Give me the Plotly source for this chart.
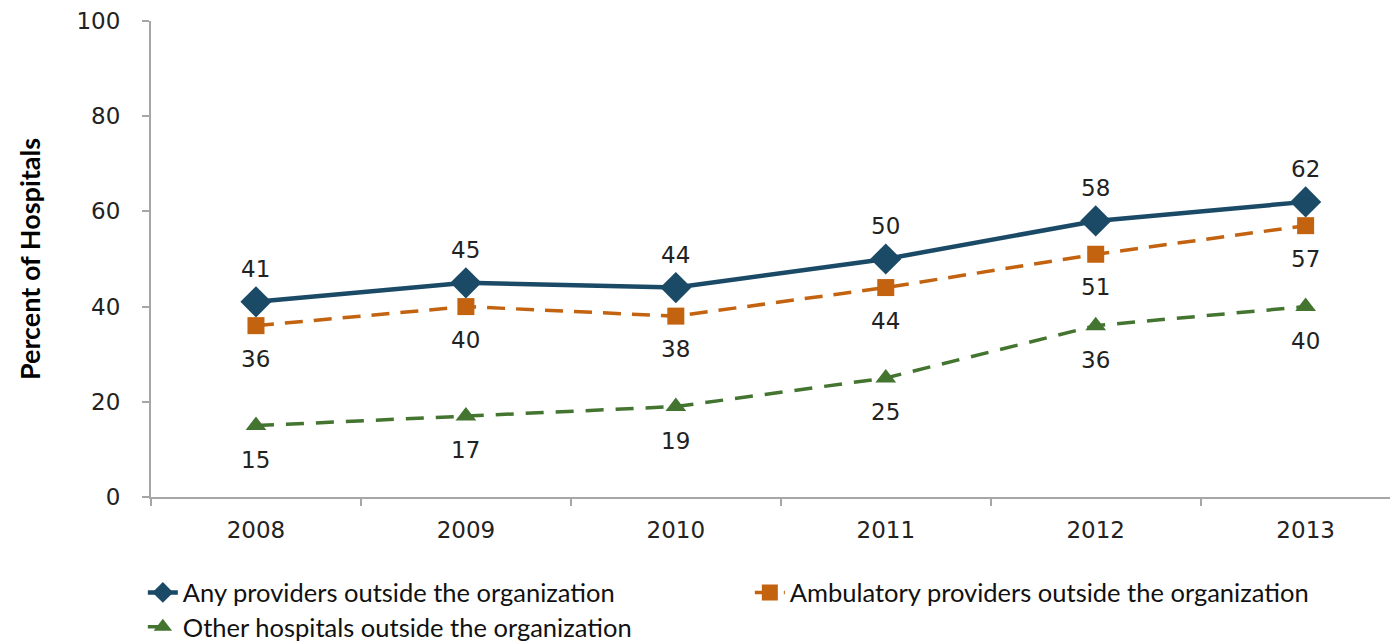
import plotly.graph_objects as go

years = ["2008", "2009", "2010", "2011", "2012", "2013"]
any_providers = [41, 45, 44, 50, 58, 62]
ambulatory = [36, 40, 38, 44, 51, 57]
other_hospitals = [15, 17, 19, 25, 36, 40]
y_ticks = [0, 20, 40, 60, 80, 100]

names = ["Any providers outside the organization",
         "Ambulatory providers outside the organization",
         "Other hospitals outside the organization"]

c_any = "#1b4a67"
c_amb = "#c3620f"
c_oth = "#437530"

fig = go.Figure()
fig.add_trace(go.Scatter(x=years, y=any_providers, name=names[0], mode="lines+markers",
                         line=dict(color=c_any, width=4.5),
                         marker=dict(symbol="diamond", size=24, color=c_any),
                         legend="legend"))
fig.add_trace(go.Scatter(x=years, y=ambulatory, name=names[1], mode="lines+markers",
                         line=dict(color=c_amb, width=3.5, dash="18px,11px"),
                         marker=dict(symbol="square", size=17, color=c_amb),
                         legend="legend"))
fig.add_trace(go.Scatter(x=years, y=other_hospitals, name=names[2], mode="lines+markers",
                         line=dict(color=c_oth, width=3.5, dash="18px,12px"),
                         marker=dict(symbol="triangle-up", size=18, color=c_oth),
                         legend="legend2"))

lab_font = dict(family="DejaVu Sans", size=23, color="#222222")
for series, shift in [(any_providers, 33), (ambulatory, -33), (other_hospitals, -34)]:
    for i, v in enumerate(series):
        fig.add_annotation(x=i, y=v, xref="x", yref="y", text=str(v), showarrow=False,
                           yshift=shift, font=lab_font)

axis_col = "#a6a6a6"
W, H = 1390, 635
fig.update_layout(
    width=W, height=H,
    margin=dict(l=143, r=0, t=11, b=146),
    plot_bgcolor="white", paper_bgcolor="white",
    xaxis=dict(type="category", range=[-0.5, 5.44], tickson="boundaries",
               ticks="outside", ticklen=7, tickcolor=axis_col, tickwidth=1.5,
               showline=True, linecolor=axis_col, linewidth=2, showgrid=False,
               tickfont=dict(family="DejaVu Sans", size=23, color="#222222"),
               ticklabelstandoff=11),
    yaxis=dict(range=[0, 100], tickvals=y_ticks, ticks="outside", ticklen=7,
               tickcolor=axis_col, tickwidth=1.5, showline=True, linecolor=axis_col,
               linewidth=2, showgrid=False, zeroline=False, ticklabeloverflow="allow",
               tickfont=dict(family="DejaVu Sans", size=23, color="#222222"),
               ticklabelstandoff=17,
               title=dict(text="<b>Percent of Hospitals</b>", standoff=28,
                          font=dict(family="Lato", size=27, color="#000000"))),
    legend=dict(orientation="h", xref="container", yref="container", x=0.097, y=0.079,
                xanchor="left", yanchor="middle", entrywidth=562, entrywidthmode="pixels",
                font=dict(family="Lato", size=25.5, color="#111111"), bgcolor="rgba(0,0,0,0)"),
    legend2=dict(orientation="h", xref="container", yref="container", x=0.097, y=0.025,
                 xanchor="left", yanchor="middle",
                 font=dict(family="Lato", size=25.5, color="#111111"), bgcolor="rgba(0,0,0,0)"),
)

fig.write_html("out.html")
